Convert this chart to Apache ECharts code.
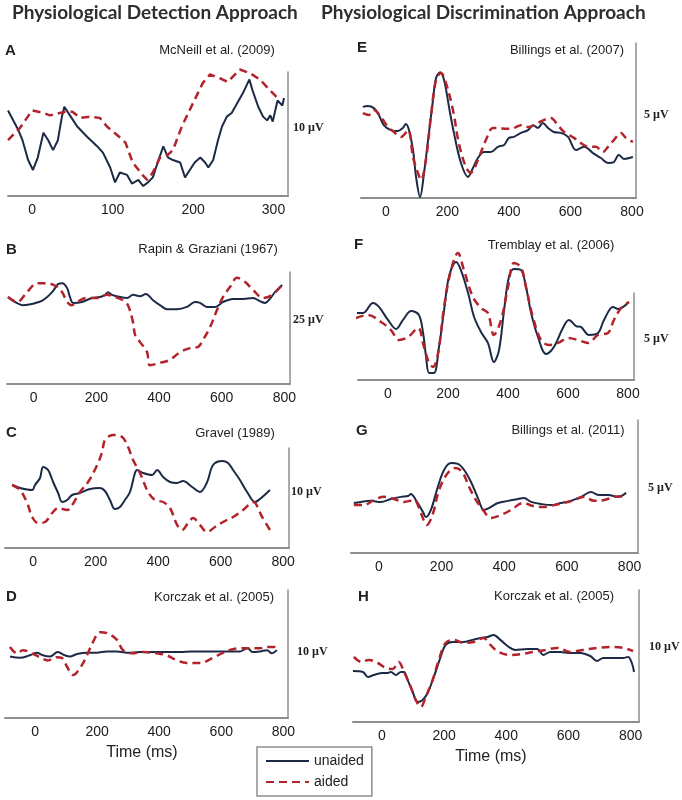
<!DOCTYPE html>
<html>
<head>
<meta charset="utf-8">
<script src="https://cdn.jsdelivr.net/npm/echarts@6/dist/echarts.min.js"></script>
<style>
html,body{margin:0;padding:0;background:#fff;}
#chart{width:682px;height:800px;}
</style>
</head>
<body>
<div id="chart"></div>
<script>
// ---------- data: [time (ms), amplitude (µV)] ----------
const unaidedA = [[-30,6.9],[-17,5.3],[-12,4.5],[-5,2.9],[1,2.1],[7,3.1],[14,5.1],[20,4.5],[26,3.7],[32,4.5],[37,6.4],[40,7.2],[47,6.5],[56,5.6],[68,4.8],[81,4.0],[88,3.5],[97,2.3],[103,1.1],[109,1.9],[118,1.7],[124,1.0],[132,1.3],[138,0.8],[144,1.1],[150,1.5],[156,2.7],[163,4.0],[169,3.1],[175,2.9],[184,2.7],[190,1.5],[196,2.1],[202,2.7],[209,3.1],[215,2.7],[219,2.3],[225,2.9],[231,4.5],[236,5.6],[242,6.4],[248,6.7],[255,7.5],[262,8.3],[270,9.4],[274,8.5],[281,7.2],[287,6.4],[292,6.1],[296,6.5],[299,6.0],[305,7.7],[311,7.3],[313,7.9]];
const aidedA = [[-30,4.5],[-15,5.5],[0,6.9],[14,6.7],[22,6.5],[41,6.8],[50,6.8],[60,6.3],[72,6.4],[84,6.3],[93,5.6],[106,4.9],[116,4.3],[125,2.7],[137,1.7],[143,1.3],[150,1.9],[159,3.1],[168,3.3],[175,3.7],[186,5.6],[200,7.5],[212,9.1],[221,9.8],[233,9.5],[243,9.2],[258,10.2],[271,9.9],[283,9.4],[296,8.5],[308,7.7]];

const unaidedB = [[-82,19.4],[-59,18.3],[-34,17.6],[-2,17.9],[30,18.7],[59,20.5],[78,22.3],[91,22.5],[107,21.4],[116,19.4],[126,18.1],[154,18.3],[186,19.2],[212,19.4],[228,19.9],[237,20.5],[250,19.9],[276,19.4],[298,19.2],[317,19.9],[339,19.6],[358,20.1],[381,18.7],[403,17.6],[426,16.7],[457,16.7],[489,17.2],[515,18.3],[531,18.1],[553,17.2],[579,17.2],[604,18.3],[636,19.0],[668,19.0],[700,19.2],[722,18.5],[738,18.1],[756,19.2],[770,20.5],[793,22.1]];
const aidedB = [[-82,19.4],[-53,18.3],[-21,20.5],[11,22.5],[43,22.5],[75,21.7],[91,20.5],[107,18.3],[122,17.6],[138,18.3],[170,19.2],[202,19.2],[234,19.9],[260,19.4],[285,18.7],[301,17.6],[317,13.8],[324,10.9],[339,9.4],[362,7.1],[371,4.2],[403,4.7],[435,5.4],[467,7.1],[499,8.0],[525,8.3],[540,9.8],[563,12.7],[585,16.5],[604,19.4],[627,21.7],[649,23.7],[674,22.8],[700,21.0],[732,19.2],[761,19.9],[793,22.1]];

const unaidedC = [[-67,6.3],[-42,6.0],[-3,5.8],[6,6.3],[22,7.0],[32,8.1],[48,7.8],[64,6.6],[80,5.5],[93,4.6],[109,4.8],[125,5.3],[150,5.5],[182,5.9],[214,6.0],[230,5.7],[246,4.8],[262,3.9],[278,4.1],[294,4.8],[310,5.6],[326,7.5],[333,7.8],[352,7.5],[381,7.3],[397,7.8],[416,7.1],[438,6.6],[461,6.5],[480,6.7],[509,6.1],[534,5.6],[557,6.6],[576,8.3],[605,8.7],[624,8.5],[640,7.8],[662,6.8],[685,5.6],[710,4.6],[726,4.9],[758,5.8]];
const aidedC = [[-67,6.3],[-42,5.8],[-19,4.5],[-3,3.1],[16,2.5],[38,2.6],[61,3.5],[80,4.0],[109,3.8],[125,4.3],[150,5.6],[176,6.6],[205,8.3],[221,9.6],[230,10.8],[256,11.3],[285,11.1],[304,10.1],[320,8.8],[342,7.5],[368,5.6],[390,4.8],[416,4.6],[438,4.0],[461,2.3],[477,1.8],[496,2.5],[512,3.0],[534,2.3],[557,1.6],[582,2.1],[608,2.6],[640,3.1],[672,3.8],[704,4.6],[733,3.1],[758,1.8]];

const unaidedD = [[-81,4.8],[-49,4.7],[-17,4.9],[6,5.1],[25,4.9],[48,4.8],[73,5.15],[96,4.9],[112,4.8],[135,5.0],[167,5.1],[199,5.1],[231,5.2],[264,5.2],[296,5.1],[338,5.15],[380,5.15],[424,5.15],[466,5.15],[505,5.2],[540,5.2],[585,5.2],[627,5.2],[660,5.2],[685,5.45],[701,5.15],[725,5.2],[747,5.3],[763,5.05],[779,5.3]];
const aidedD = [[-81,5.55],[-58,5.05],[-39,5.3],[-10,5.05],[15,4.75],[41,4.5],[70,4.75],[86,4.7],[103,4.0],[122,3.35],[145,3.9],[167,4.9],[186,5.9],[209,6.7],[235,6.6],[264,6.1],[283,5.3],[312,5.05],[348,5.15],[393,5.05],[424,4.9],[457,4.5],[489,4.3],[531,4.3],[573,4.7],[602,5.05],[627,5.3],[660,5.45],[692,5.45],[724,5.45],[747,5.55],[779,5.55]];

const unaidedE = [[-75,2.94],[-59,2.97],[-39,2.90],[-23,2.68],[-7,2.35],[16,2.19],[39,2.16],[55,2.26],[65,2.39],[75,2.19],[88,1.55],[98,0.68],[111,0.03],[124,0.81],[137,1.87],[153,3.16],[163,3.87],[176,4.06],[189,3.81],[205,2.94],[221,2.10],[244,1.13],[267,0.68],[283,0.97],[299,1.29],[319,1.48],[341,1.48],[364,1.65],[384,1.71],[400,1.94],[416,1.97],[439,2.10],[462,2.19],[478,2.35],[494,2.26],[510,2.42],[527,2.26],[546,2.13],[569,2.10],[592,1.97],[618,1.55],[644,1.65],[673,1.45],[699,1.29],[722,1.13],[741,1.16],[757,1.39],[774,1.26],[803,1.32]];
const aidedE = [[-75,2.74],[-55,2.68],[-39,2.84],[-16,2.61],[7,2.29],[26,2.13],[49,1.97],[72,2.19],[88,1.32],[104,0.81],[114,0.58],[130,1.23],[146,2.61],[163,3.81],[179,4.03],[195,3.71],[218,2.84],[237,1.77],[260,1.00],[276,0.81],[299,1.23],[325,1.87],[348,2.26],[367,2.26],[390,2.23],[416,2.26],[439,2.35],[462,2.29],[494,2.42],[514,2.52],[536,2.58],[559,2.35],[579,2.13],[611,1.94],[634,1.77],[660,1.65],[683,1.65],[705,1.48],[722,1.65],[741,1.87],[764,2.10],[780,1.94],[803,1.81]];

const unaidedF = [[-107,3.85],[-83,3.85],[-50,4.43],[-30,4.20],[0,3.45],[27,2.93],[50,3.45],[77,3.97],[103,3.74],[117,2.70],[127,1.32],[137,0.40],[153,0.40],[170,1.90],[187,4.02],[203,5.92],[227,6.78],[243,6.32],[267,5.00],[287,3.62],[310,2.76],[333,2.13],[353,1.03],[370,1.72],[387,4.02],[403,5.92],[420,6.38],[443,6.32],[460,5.34],[477,3.85],[500,2.47],[527,1.49],[553,1.90],[583,2.99],[603,3.45],[627,3.10],[643,3.05],[670,2.59],[700,2.70],[720,3.45],[750,4.20],[767,4.08],[803,4.48]];
const aidedF = [[-107,3.56],[-67,3.74],[-23,3.33],[10,2.87],[37,2.30],[67,2.47],[100,2.99],[120,1.90],[137,0.98],[150,0.75],[167,1.55],[187,4.20],[210,6.32],[233,7.30],[253,6.32],[283,4.77],[310,4.14],[333,3.85],[353,2.59],[377,3.45],[400,5.34],[420,6.72],[443,6.49],[460,5.34],[483,3.62],[510,2.30],[537,2.01],[567,2.13],[600,2.41],[633,2.30],[667,2.13],[700,2.59],[733,2.70],[753,3.45],[777,4.14],[803,4.48]];

const unaidedG = [[-80,1.88],[-58,1.92],[-26,1.96],[6,1.92],[38,2.03],[70,2.11],[93,2.14],[102,2.22],[118,1.99],[141,1.54],[150,1.35],[166,1.62],[188,2.48],[208,3.12],[230,3.38],[252,3.35],[272,3.12],[294,2.67],[316,2.07],[335,1.62],[351,1.69],[380,1.88],[412,1.96],[444,2.03],[463,2.07],[486,1.92],[518,1.84],[550,1.80],[581,1.88],[613,1.96],[645,2.11],[677,2.29],[703,2.18],[732,2.18],[764,2.11],[789,2.26]];
const aidedG = [[-80,1.80],[-48,1.80],[-16,1.99],[16,2.11],[48,2.03],[80,1.92],[112,1.99],[134,1.50],[153,1.05],[173,1.50],[192,2.37],[220,3.01],[246,3.20],[268,3.01],[288,2.48],[310,1.99],[332,1.62],[358,1.32],[390,1.43],[422,1.62],[460,1.88],[492,1.77],[524,1.73],[559,1.80],[591,1.88],[623,1.99],[655,2.11],[687,1.96],[719,1.99],[751,2.11],[789,2.14]];

const unaidedH = [[-93,3.87],[-61,3.79],[-45,3.41],[-26,3.56],[3,3.71],[19,3.71],[29,3.79],[45,3.56],[61,3.79],[71,3.79],[83,3.18],[99,2.27],[115,1.52],[131,1.67],[147,2.20],[167,3.41],[189,4.93],[205,5.84],[228,6.06],[260,6.06],[292,6.22],[317,6.37],[340,6.44],[359,6.59],[381,6.22],[404,5.76],[429,5.46],[468,5.53],[500,5.53],[519,5.08],[542,5.31],[574,5.31],[606,5.23],[638,5.23],[670,5.00],[692,4.62],[712,4.85],[744,4.85],[776,4.85],[792,4.93],[804,4.47],[811,3.79]];
const aidedH = [[-90,4.93],[-67,4.55],[-42,4.70],[-13,4.47],[13,4.09],[35,4.02],[54,4.55],[71,3.79],[93,2.65],[109,1.67],[125,1.14],[141,1.90],[163,3.18],[183,4.70],[205,5.99],[231,6.22],[263,5.99],[295,6.06],[327,6.37],[349,5.84],[375,5.31],[413,5.08],[452,5.15],[487,5.31],[526,5.46],[564,5.61],[606,5.31],[647,5.46],[692,5.61],[734,5.69],[776,5.61],[808,5.38]];

// ---------- labels ----------
const panelLetters = ['A','B','C','D','E','F','G','H'];
const studyNames = ['McNeill et al. (2009)','Rapin & Graziani (1967)','Gravel (1989)','Korczak et al. (2005)',
                    'Billings et al. (2007)','Tremblay et al. (2006)','Billings et al. (2011)','Korczak et al. (2005)'];
const scaleBars = [10, 25, 10, 10, 5, 5, 5, 10];           // µV
const timeTicksA = [0, 100, 200, 300];
const timeTicks = [0, 200, 400, 600, 800];
const seriesNames = ['unaided', 'aided'];
const columnHeaders = ['Physiological Detection Approach', 'Physiological Discrimination Approach'];
const xAxisTitle = 'Time (ms)';

// ---------- layout (pixel positions / axis extents) ----------
const layout = [
  {g:[8,288,72,196],   x:[-30,318], ticks:timeTicksA, letter:[5,51],   study:[217,50],  unit:[293,128], smooth:false},
  {g:[7,290,272,384],  x:[-85,818], ticks:timeTicks,  letter:[6,250],  study:[208,249], unit:[293,320], smooth:0.35},
  {g:[5,289,448,548],  x:[-90,819], ticks:timeTicks,  letter:[6,433],  study:[235,433], unit:[291,492], smooth:0.35},
  {g:[5,288,590,718],  x:[-97,815], ticks:timeTicks,  letter:[6,597],  study:[214,597], unit:[297,652], smooth:0.35},
  {g:[361,636,43,198], x:[-81,813], ticks:timeTicks,  letter:[357,48], study:[567,50],  unit:[644,115], smooth:0.35},
  {g:[358,634,293,380],x:[-100,820],ticks:timeTicks,  letter:[354,245],study:[551,245], unit:[644,339], smooth:0.35},
  {g:[351,638,420,553],x:[-89,827], ticks:timeTicks,  letter:[356,431],study:[568,430], unit:[648,488], smooth:0.35},
  {g:[353,639,590,722],x:[-93,827], ticks:timeTicks,  letter:[358,597],study:[554,596], unit:[649,647], smooth:0.35}
];
const dataSets = [
  [unaidedA, aidedA], [unaidedB, aidedB], [unaidedC, aidedC], [unaidedD, aidedD],
  [unaidedE, aidedE], [unaidedF, aidedF], [unaidedG, aidedG], [unaidedH, aidedH]
];

const NAVY = '#1c2a46', RED = '#b3232b', AXIS = '#8e8e8e';
const SANS = '"Liberation Sans", Arial, sans-serif';

const grids = [], xAxes = [], yAxes = [], series = [], graphics = [];
layout.forEach((p, i) => {
  const [L, R, T, B] = p.g;
  grids.push({left: L, top: T, width: R - L, height: B - T, containLabel: false, outerBoundsMode: 'none'});
  xAxes.push({
    type: 'value', gridIndex: i, min: p.x[0], max: p.x[1],
    axisLine: {show: true, onZero: false, lineStyle: {color: AXIS, width: 2}},
    axisTick: {show: false}, splitLine: {show: false},
    axisLabel: {customValues: p.ticks, margin: 7, fontSize: 14, color: '#1a1a1a', fontFamily: SANS}
  });
  yAxes.push({
    type: 'value', gridIndex: i, position: 'right', min: 0, max: scaleBars[i],
    axisLine: {show: true, onZero: false, lineStyle: {color: AXIS, width: 1.5}},
    axisTick: {show: false}, splitLine: {show: false}, axisLabel: {show: false}
  });
  series.push({
    type: 'line', name: seriesNames[0], xAxisIndex: i, yAxisIndex: i, data: dataSets[i][0],
    symbol: 'none', legendIcon: 'none', smooth: p.smooth, clip: false, z: 3,
    lineStyle: {color: NAVY, width: 2}, itemStyle: {color: NAVY}
  });
  series.push({
    type: 'line', name: seriesNames[1], xAxisIndex: i, yAxisIndex: i, data: dataSets[i][1],
    symbol: 'none', legendIcon: 'none', smooth: p.smooth, clip: false, z: 4,
    lineStyle: {color: RED, width: 2.5, type: [8, 5]}, itemStyle: {color: RED}
  });
  graphics.push({type: 'text', x: p.letter[0], y: p.letter[1],
    style: {text: panelLetters[i], font: 'bold 15px ' + SANS, fill: '#222', align: 'left', verticalAlign: 'middle', textAlign: 'left', textVerticalAlign: 'middle'}});
  graphics.push({type: 'text', x: p.study[0], y: p.study[1],
    style: {text: studyNames[i], font: '13px ' + SANS, fill: '#222', align: 'center', verticalAlign: 'middle', textAlign: 'center', textVerticalAlign: 'middle'}});
  graphics.push({type: 'text', x: p.unit[0], y: p.unit[1],
    style: {text: scaleBars[i] + ' µV', font: 'bold 12px "Liberation Serif", "Times New Roman", serif', fill: '#222', align: 'left', verticalAlign: 'middle', textAlign: 'left', textVerticalAlign: 'middle'}});
});

graphics.push({type: 'text', x: 12, y: 13,
  style: {text: columnHeaders[0], font: 'bold 19px Lato, sans-serif', fill: '#2e2e2e', align: 'left', verticalAlign: 'middle', textAlign: 'left', textVerticalAlign: 'middle'}});
graphics.push({type: 'text', x: 321, y: 13,
  style: {text: columnHeaders[1], font: 'bold 19px Lato, sans-serif', fill: '#2e2e2e', align: 'left', verticalAlign: 'middle', textAlign: 'left', textVerticalAlign: 'middle'}});
graphics.push({type: 'text', x: 142, y: 753,
  style: {text: xAxisTitle, font: '16px ' + SANS, fill: '#222', align: 'center', verticalAlign: 'middle', textAlign: 'center', textVerticalAlign: 'middle'}});
graphics.push({type: 'text', x: 491, y: 757,
  style: {text: xAxisTitle, font: '16px ' + SANS, fill: '#222', align: 'center', verticalAlign: 'middle', textAlign: 'center', textVerticalAlign: 'middle'}});

const chart = echarts.init(document.getElementById('chart'), null, {renderer: 'canvas'});
chart.setOption({
  backgroundColor: '#ffffff',
  animation: false,
  grid: grids, xAxis: xAxes, yAxis: yAxes, series: series,
  legend: {
    data: seriesNames, orient: 'vertical', left: 257, top: 747,
    itemWidth: 43, itemHeight: 12, itemGap: 7, padding: [7, 8, 7, 8],
    borderColor: AXIS, borderWidth: 1.5, selectedMode: false,
    itemStyle: {opacity: 0},
    textStyle: {fontSize: 14, color: '#222', fontFamily: SANS}
  },
  graphic: graphics
});
</script>
</body>
</html>
